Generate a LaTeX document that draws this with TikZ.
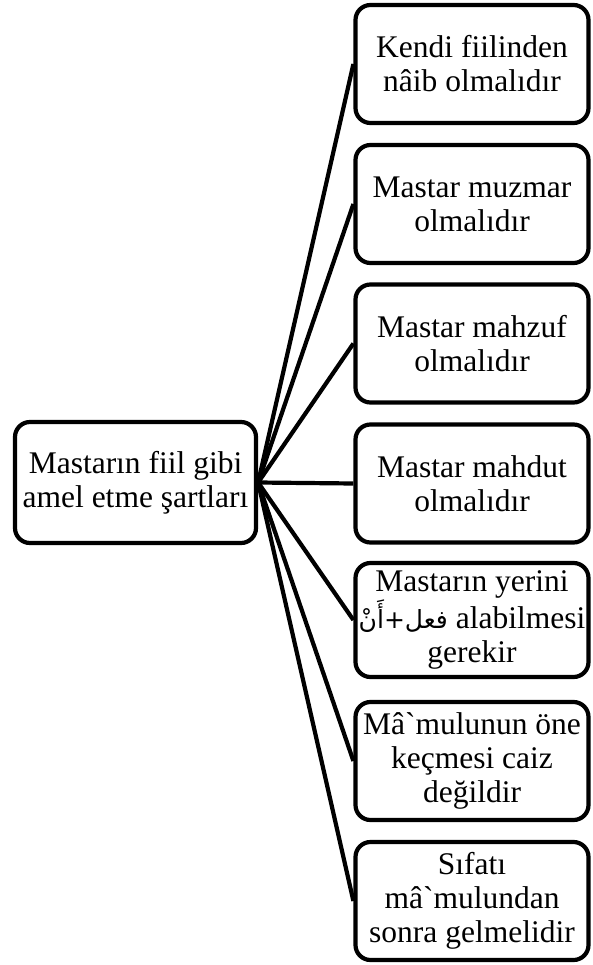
\documentclass[tikz,border=0pt]{standalone}
\usepackage{fontspec}
\setmainfont{Liberation Serif}
\newfontfamily\arabicfont[Script=Arabic]{DejaVu Sans}
\TeXXeTstate=1
\begin{document}
\begin{tikzpicture}[x=1pt,y=-1pt,
  box/.style={draw, line width=4.2pt, rounded corners=15pt, align=center,
    inner sep=0pt, font=\fontsize{31.5}{34}\selectfont},
  leaf/.style={box, minimum width=233pt, minimum height=118pt},
  link/.style={line width=4.2pt}]
\useasboundingbox (0,0) rectangle (592,965);

\node[box, minimum width=241pt, minimum height=121pt] (root) at (135.5,482.5)
  {Mastarın fiil gibi\\amel etme şartları};

\node[leaf] (k1) at (472,64)  {Kendi fiilinden\\nâib olmalıdır};
\node[leaf] (k2) at (472,204) {Mastar muzmar\\olmalıdır};
\node[leaf] (k3) at (472,343.5) {Mastar mahzuf\\olmalıdır};
\node[leaf] (k4) at (472,483.5) {Mastar mahdut\\olmalıdır};
\node[leaf, minimum height=114pt] (k5) at (472,620)
  {Mastarın yerini\\{\arabicfont\fontsize{25}{34}\selectfont\beginR فعل+أَنْ\endR} alabilmesi\\gerekir};
\node[leaf] (k6) at (472,761) {Mâ\textasciigrave mulunun öne\\keçmesi caiz\\değildir};
\node[leaf] (k7) at (472,901) {Sıfatı\\mâ\textasciigrave mulundan\\sonra gelmelidir};

\foreach \k in {k1,k2,k3,k4,k5,k6,k7}
  \draw[link] (root.east) -- (\k.west);
\end{tikzpicture}
\end{document}
